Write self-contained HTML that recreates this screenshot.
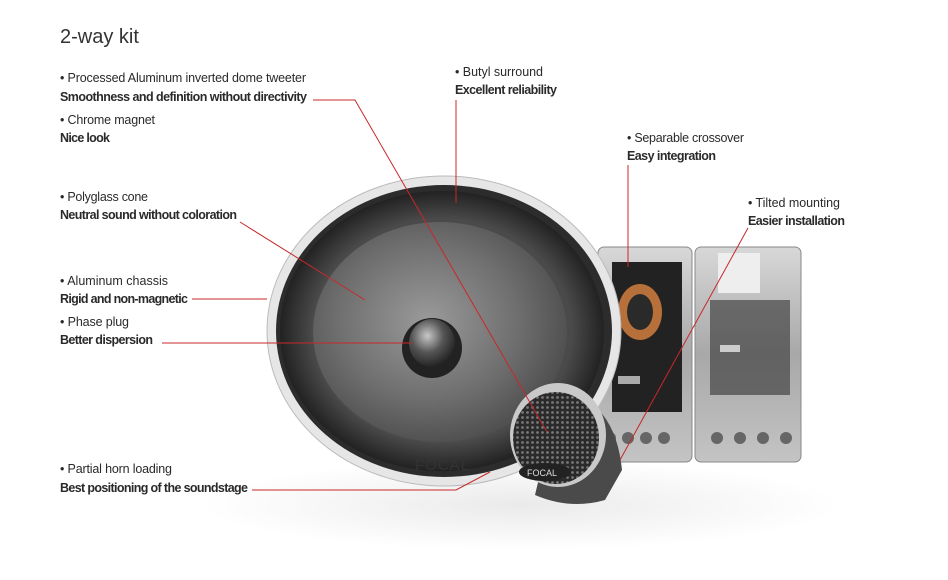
<!DOCTYPE html>
<html><head><meta charset="utf-8"><style>
html,body{margin:0;padding:0;background:#fff;}
svg{display:block}
text{font-family:"Liberation Sans",sans-serif;fill:#2a2a2a;}
.n{font-size:12.5px}
.b{font-size:12.5px;font-weight:bold}
</style></head><body>
<svg width="948" height="580" viewBox="0 0 948 580" xmlns="http://www.w3.org/2000/svg">
<defs>
<radialGradient id="cone" cx="0.45" cy="0.45" r="0.6"><stop offset="0" stop-color="#9a9a9a"/><stop offset="0.6" stop-color="#6e6e6e"/><stop offset="1" stop-color="#4a4a4a"/></radialGradient>
<radialGradient id="sur" cx="0.5" cy="0.5" r="0.5"><stop offset="0.8" stop-color="#4a4a4a"/><stop offset="1" stop-color="#222"/></radialGradient>
<radialGradient id="plug" cx="0.4" cy="0.35" r="0.7"><stop offset="0" stop-color="#c8c8c8"/><stop offset="0.5" stop-color="#555"/><stop offset="1" stop-color="#1c1c1c"/></radialGradient>
<linearGradient id="box" x1="0" y1="0" x2="0" y2="1"><stop offset="0" stop-color="#d8d8d8"/><stop offset="0.5" stop-color="#a8a8a8"/><stop offset="1" stop-color="#c4c4c4"/></linearGradient>
<pattern id="mesh" width="5" height="5" patternUnits="userSpaceOnUse"><rect width="5" height="5" fill="#2a2a2a"/><circle cx="2.5" cy="2.5" r="1.4" fill="#777"/></pattern>
<radialGradient id="shadow" cx="0.5" cy="0.5" r="0.5"><stop offset="0" stop-color="#eaeaea"/><stop offset="1" stop-color="#fff"/></radialGradient>
</defs>
<ellipse cx="520" cy="505" rx="320" ry="45" fill="url(#shadow)"/>
<rect x="598" y="247" width="94" height="215" rx="6" fill="url(#box)" stroke="#888"/>
<rect x="612" y="262" width="70" height="150" fill="#222"/>
<ellipse cx="640" cy="312" rx="22" ry="28" fill="#b8703a"/>
<ellipse cx="640" cy="312" rx="13" ry="18" fill="#2a2a2a"/>
<rect x="618" y="376" width="22" height="8" fill="#aaa"/>
<rect x="695" y="247" width="106" height="215" rx="6" fill="url(#box)" stroke="#888"/>
<rect x="718" y="253" width="42" height="40" fill="#eee"/>
<rect x="710" y="300" width="80" height="95" fill="#444" opacity="0.7"/>
<rect x="720" y="345" width="20" height="7" fill="#ccc"/>
<g fill="#666"><circle cx="610" cy="438" r="6"/><circle cx="628" cy="438" r="6"/><circle cx="646" cy="438" r="6"/><circle cx="664" cy="438" r="6"/><circle cx="717" cy="438" r="6"/><circle cx="740" cy="438" r="6"/><circle cx="763" cy="438" r="6"/><circle cx="786" cy="438" r="6"/></g>
<ellipse cx="444" cy="331" rx="177" ry="155" fill="#e6e6e6" stroke="#bbb"/>
<ellipse cx="444" cy="331" rx="168" ry="146" fill="#2c2c2c"/>
<ellipse cx="442" cy="331" rx="162" ry="140" fill="url(#sur)"/>
<ellipse cx="440" cy="332" rx="127" ry="110" fill="url(#cone)"/>
<ellipse cx="432" cy="348" rx="30" ry="30" fill="#222"/>
<ellipse cx="432" cy="343" rx="23" ry="24" fill="url(#plug)"/>
<text x="415" y="470" style="font-size:15px;fill:#333;letter-spacing:1px">FOCAL</text>
<path d="M560 390 Q615 400 622 470 L605 500 Q570 510 535 495 Z" fill="#4a4a4a"/>
<ellipse cx="558" cy="435" rx="48" ry="52" fill="#c9c9c9"/>
<ellipse cx="556" cy="438" rx="43" ry="46" fill="url(#mesh)"/>
<ellipse cx="545" cy="472" rx="26" ry="9" fill="#222"/>
<text x="527" y="476" style="font-size:9px;fill:#ddd">FOCAL</text>
<g stroke="#c8282a" stroke-width="1" fill="none">
<polyline points="313,100 355,100 547,432"/>
<line x1="456" y1="100" x2="456" y2="203"/>
<line x1="240" y1="222" x2="365" y2="300"/>
<line x1="192" y1="299" x2="267" y2="299"/>
<line x1="162" y1="343" x2="412" y2="343"/>
<polyline points="252,490 456,490 490,472"/>
<line x1="628" y1="165" x2="628" y2="267"/>
<line x1="748" y1="228" x2="620" y2="460"/>
</g>
<text x="60" y="43" style="font-size:20px;fill:#333">2-way kit</text>
<text class="n" x="60" y="82" textLength="246">• Processed Aluminum inverted dome tweeter</text>
<text class="b" x="60" y="101" textLength="247">Smoothness and definition without directivity</text>
<text class="n" x="60" y="124" textLength="95">• Chrome magnet</text>
<text class="b" x="60" y="142" textLength="50">Nice look</text>
<text class="n" x="60" y="201" textLength="88">• Polyglass cone</text>
<text class="b" x="60" y="219" textLength="177">Neutral sound without coloration</text>
<text class="n" x="60" y="285" textLength="108">• Aluminum chassis</text>
<text class="b" x="60" y="303" textLength="128">Rigid and non-magnetic</text>
<text class="n" x="60" y="326" textLength="69">• Phase plug</text>
<text class="b" x="60" y="344" textLength="93">Better dispersion</text>
<text class="n" x="60" y="473" textLength="112">• Partial horn loading</text>
<text class="b" x="60" y="492" textLength="188">Best positioning of the soundstage</text>
<text class="n" x="455" y="76" textLength="88">• Butyl surround</text>
<text class="b" x="455" y="94" textLength="102">Excellent reliability</text>
<text class="n" x="627" y="142" textLength="117">• Separable crossover</text>
<text class="b" x="627" y="160" textLength="89">Easy integration</text>
<text class="n" x="748" y="207" textLength="92">• Tilted mounting</text>
<text class="b" x="748" y="225" textLength="97">Easier installation</text>
</svg>
</body></html>
